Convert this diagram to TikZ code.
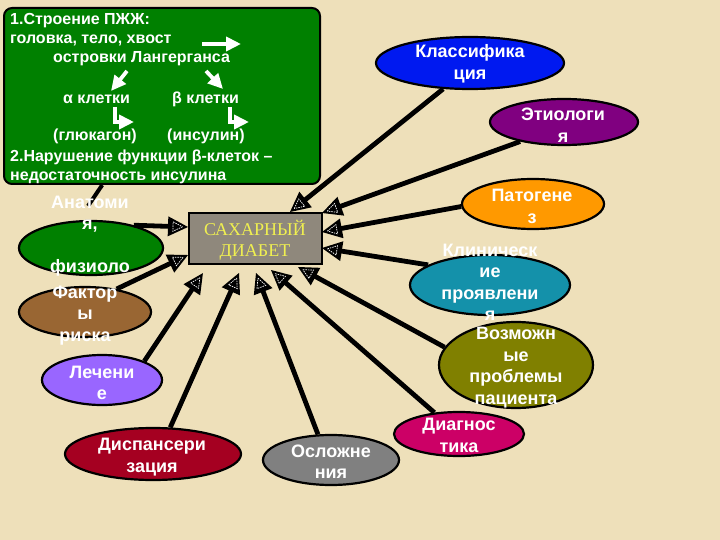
\documentclass[tikz,border=0pt]{standalone}
\usepackage{fontspec}
\setmainfont{Liberation Sans}
\newfontfamily\timesfont{Liberation Serif}
\usetikzlibrary{shapes.geometric,arrows.meta,decorations.markings}
\definecolor{bg}{RGB}{238,224,186}
\definecolor{cgreen}{RGB}{0,128,0}
\definecolor{cblue}{RGB}{0,25,240}
\definecolor{cpurple}{RGB}{128,0,128}
\definecolor{corange}{RGB}{255,153,0}
\definecolor{cteal}{RGB}{20,145,170}
\definecolor{colive}{RGB}{128,128,0}
\definecolor{cmagenta}{RGB}{204,0,102}
\definecolor{cgray}{RGB}{128,128,128}
\definecolor{cdarkred}{RGB}{165,0,33}
\definecolor{clav}{RGB}{153,102,255}
\definecolor{cbrown}{RGB}{153,102,51}
\definecolor{cgranite}{RGB}{143,136,124}
\definecolor{cyel}{RGB}{240,240,80}
\begin{document}
\begin{tikzpicture}[x=1pt,y=-1pt,
  ell/.style={draw=black,line width=2.2pt,ellipse,inner sep=0pt},
  et/.style={text=white,font=\fontsize{18}{21.5}\selectfont\bfseries,align=center,inner sep=0pt},
  gt/.style={text=white,font=\fontsize{16}{19}\selectfont\bfseries,anchor=base west,inner sep=0pt},
  conn/.style={line width=4.8pt,shorten >=13pt,postaction={decorate},
    decoration={markings,mark=at position 1 with {
      \fill[black] (0,0) -- (-20,10) -- (-20,-10) -- cycle;
      \draw[white,line width=0.7pt,dash pattern=on 1.5pt off 1pt] (-5.5,0) -- (-15,4.7) -- (-15,-4.7) -- cycle;}}},
  warr/.style={draw=white,line width=3.8pt,-{Triangle[length=15pt,width=14pt,fill=white]}},
]
\fill[bg] (0,0) rectangle (720,540);
\useasboundingbox (0,0) rectangle (720,540);

% green info box
\node[draw=black,line width=2pt,fill=cgreen,rounded corners=8pt,minimum width=316pt,minimum height=176pt,inner sep=0pt] (pzh) at (162,96) {};
\node[gt] (l1) at (10,24.5) {1.Строение ПЖЖ:};
\node[gt] (l2) at (10,43.5) {головка, тело, хвост};
\node[gt] (l3) at (53,63) {островки Лангерганса};
\node[gt] (l4a) at (63,104) {α клетки};
\node[gt] (l4b) at (172,104) {β клетки};
\node[gt] (l5a) at (53,141) {(глюкагон)};
\node[gt] (l5b) at (167,141) {(инсулин)};
\node[gt] (l6) at (10,162) {2.Нарушение функции β-клеток –};
\node[gt] (l7) at (10,181) {недостаточность инсулина};
\coordinate (h0) at (202,44); \coordinate (h1) at (241,44);
\coordinate (a0) at (127,71); \coordinate (a1) at (111,91);
\coordinate (b0) at (206,71); \coordinate (b1) at (223,89);
\coordinate (c0) at (115,107); \coordinate (c1) at (134,122);
\coordinate (d0) at (230,107); \coordinate (d1) at (249,122);
\draw[warr] (h0) -- (h1);
\draw[warr] (a0) -- (a1);
\draw[warr] (b0) -- (b1);
\draw[warr] (c0) |- (c1);
\draw[warr] (d0) |- (d1);

% ellipses
\node[ell,fill=cblue,minimum width=188pt,minimum height=52pt] (klass) at (470,63) {};
\node[ell,fill=cpurple,minimum width=148pt,minimum height=46pt] (etio) at (564,122) {};
\node[ell,fill=corange,minimum width=142pt,minimum height=50pt] (pat) at (533,204) {};
\node[ell,fill=cteal,minimum width=160pt,minimum height=60pt] (klin) at (490,285) {};
\node[ell,fill=colive,minimum width=154pt,minimum height=86pt] (vozm) at (516,365) {};
\node[ell,fill=cmagenta,minimum width=130pt,minimum height=44pt] (diag) at (459,434) {};
\node[ell,fill=cgray,minimum width=136pt,minimum height=50pt] (oslo) at (331,460) {};
\node[ell,fill=cdarkred,minimum width=176pt,minimum height=52pt] (disp) at (153,454) {};
\node[ell,fill=clav,minimum width=120pt,minimum height=50pt] (lech) at (102,380) {};
\node[ell,fill=cgreen,minimum width=144pt,minimum height=54pt] (anat) at (91,248) {};
\node[ell,fill=cbrown,minimum width=132pt,minimum height=50pt] (fakt) at (85,312) {};

% central box
\node[draw=black,line width=2.4pt,fill=cgranite,minimum width=133pt,minimum height=51pt,inner sep=0pt] (diab) at (255.5,238.5) {};

% arrow tips near the box
\coordinate (tK) at (290,212);
\coordinate (tE) at (322,213);
\coordinate (tP) at (322,232);
\coordinate (tKl) at (322,248);
\coordinate (tV) at (298,267);
\coordinate (tD) at (271,270);
\coordinate (tO) at (256,273);
\coordinate (tDi) at (239,273);
\coordinate (tL) at (203,273);
\coordinate (tF) at (188,255);
\coordinate (tA) at (188,227);
\coordinate (anatTop) at (88,206);

\draw[conn] (klass.224) -- (tK);
\draw[conn] (etio.204) -- (tE);
\draw[conn] (pat.182) -- (tP);
\draw[conn] (klin.162) -- (tKl);
\draw[conn] (vozm.166) -- (tV);
\draw[conn] (diag.139) -- (tD);
\draw[conn] (oslo.117) -- (tO);
\draw[conn] (disp.57) -- (tDi);
\draw[conn] (lech.24) -- (tL);
\draw[conn] (fakt.36) -- (tF);
\draw[conn] (anat.28) -- (tA);
\draw[line width=4pt] (anatTop) -- (pzh);

% texts
\node[font=\timesfont\fontsize{18}{21}\selectfont,text=cyel,align=center,inner sep=0pt] (diabT) at (255,240) {САХАРНЫЙ\\ДИАБЕТ};
\node[et] (klassT) at (470,64) {Классифика\\ция};
\node[et] (etioT) at (563,125) {Этиологи\\я};
\node[et] (patT) at (532,206.5) {Патогене\\з};
\node[et] (klinT) at (490,282.5) {Клиническ\\ие\\проявлени\\я};
\node[et] (vozmT) at (516,367.5) {Возможн\\ые\\проблемы\\пациента};
\node[et] (diagT) at (459,435.5) {Диагнос\\тика};
\node[et] (osloT) at (331,461.5) {Осложне\\ния};
\node[et] (dispT) at (152,457) {Диспансери\\зация};
\node[et] (lechT) at (102,383) {Лечени\\е};
\node[et] (anatT) at (90,236) {Анатоми\\я,\\\mbox{}\\физиоло};
\node[et] (faktT) at (85,315.5) {Фактор\\ы\\риска};
\end{tikzpicture}
\end{document}
